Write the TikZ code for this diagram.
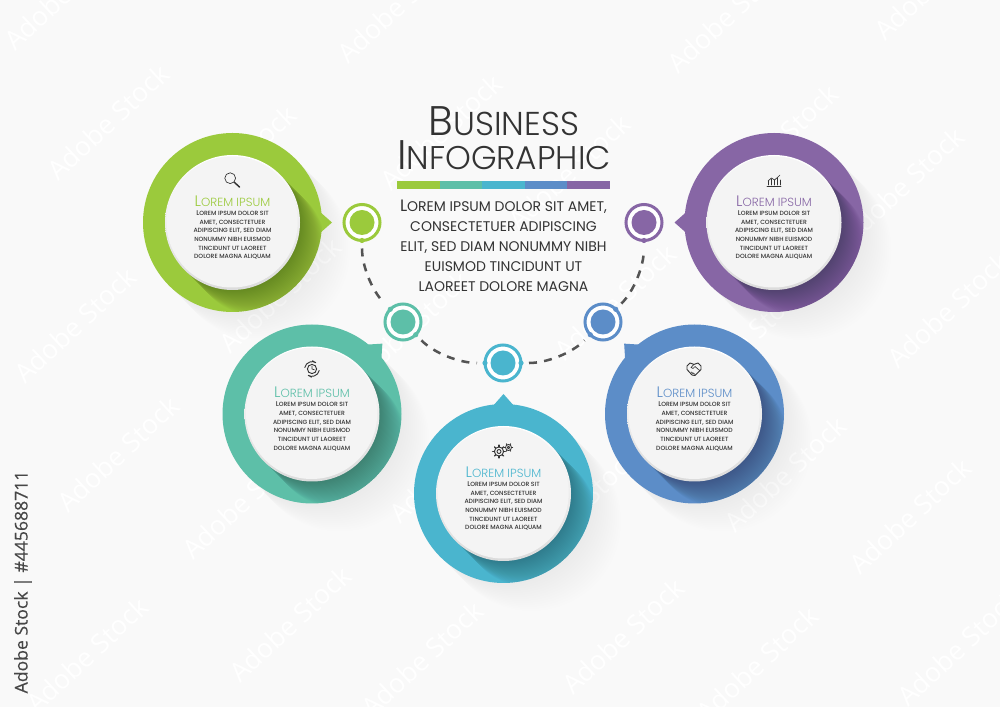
\documentclass[tikz,border=0pt]{standalone}
\usepackage{fontspec}
\setmainfont{Poppins}
\newfontfamily\lightf{Poppins Light}
\newfontfamily\medf{Poppins Medium}
\newfontfamily\stockf[FakeBold=.35]{Open Sans}
\newfontfamily\markf{Open Sans}
\usetikzlibrary{calc}
\definecolor{cgreen}{HTML}{9BCA3C}
\definecolor{cteal}{HTML}{5DBFA8}
\definecolor{ccyan}{HTML}{4AB5CE}
\definecolor{cblue}{HTML}{5C8DC8}
\definecolor{cpurple}{HTML}{8766A5}
\definecolor{cink}{HTML}{333333}
\definecolor{cpage}{HTML}{F9F9F9}
\tikzset{
  ringdisc/.style={circle,inner sep=0pt,outer sep=0pt,minimum size=134.25pt},
  whitedisc/.style={circle,inner sep=0pt,outer sep=0pt,minimum size=101.25pt},
  dotring/.style={circle,inner sep=0pt,outer sep=0pt,minimum size=27pt,line width=2.25pt,fill=white},
  dotcore/.style={circle,inner sep=0pt,outer sep=0pt,minimum size=18.75pt},
  dashlink/.style={draw=black!67,line width=1.9pt,dash pattern=on 6pt off 5.4pt,shorten <=6pt,shorten >=6pt,looseness=.885},
  icon/.style={draw=cink,line width=.5pt,line cap=round,line join=round},
  paneltitle/.style={inner sep=0pt,align=center},
  panelbody/.style={inner sep=0pt,align=center,text=cink,font=\medf\fontsize{4.55pt}{6.5pt}\selectfont},
  introtext/.style={inner sep=0pt,align=center,text=cink,font=\fontsize{10.5pt}{15pt}\selectfont},
  markbase/.style={inner sep=0pt,rotate=43,text=white,font=\markf\fontsize{20pt}{20pt}\selectfont},
}
\newcommand\Ptitle{{\lightf\fontsize{11.4pt}{10pt}\selectfont L{\fontsize{8.85pt}{10pt}\selectfont OREM IPSUM}}}
\newcommand\Pbody{{\fontsize{5.2pt}{6.5pt}\selectfont L}OREM IPSUM DOLOR SIT\\AMET, CONSECTETUER\\ADIPISCING ELIT, SED DIAM\\NONUMMY NIBH EUISMOD\\TINCIDUNT UT LAOREET\\DOLORE MAGNA ALIQUAM}
\newcommand\MarkList{65/-8,108/122,235/163,441/132,398/5,75/325,280/295,728/15,935/-18,777/142,903/185,569/172,615/302,948/310,745/340,118/454,243/501,290/624,87/655,422/659,450/465,408/329,785/474,910/516,623/636,757/664,958/648,578/506}
% #1 name  #2 x  #3 y  #4 colour  #5 pointer angle
\newcommand\Panel[5]{%
  \foreach \k in {1,...,14}{\fill[black,opacity=.003] ($(#2,#3)+(2*\k,-2*\k)$) circle[radius=89.5];}
  \node[ringdisc,fill=#4] (#1ring) at (#2,#3) {};
  \fill[#4] ($(#2,#3)+(#5:99.5)$) -- ($(#2,#3)+(#5+7:88)$) -- ($(#2,#3)+(#5-7:88)$) -- cycle;
  \begin{scope}
    \clip (#2,#3) circle[radius=89.5];
    \foreach \k in {1,...,26}{\fill[black,opacity=.0125] ($(#2,#3)+(1*\k,-1*\k)$) circle[radius=67.5];}
  \end{scope}
  \node[whitedisc,shade,shading angle=135,top color=white,bottom color=black!14] (#1disc) at (#2,#3) {};
  \fill[black!4.5] ($(#2,#3)+(-.4,.6)$) circle[radius=65.6];
  \node[paneltitle,text=#4] (#1title) at ($(#2,#3)+(0,21.5)$) {\Ptitle};
  \node[panelbody,anchor=north] (#1body) at ($(#2,#3)+(0,12.2)$) {\Pbody};
}
\newcommand\Dot[4]{%
  \node[dotring,draw=#4] (#1) at (#2,#3) {};
  \node[dotcore,fill=#4] (#1core) at (#2,#3) {};
}
\begin{document}
\begin{tikzpicture}[x=.75pt,y=.75pt]
\useasboundingbox (0,0) rectangle (1000,707);
\fill[cpage] (0,0) rectangle (1000,707);

% faint stock marks on the page
\begin{scope}
\clip (0,0) rectangle (1000,707);
\foreach \x/\y [count=\i] in \MarkList {
  \node[markbase] (mark\i) at (\x,707-\y) {Adobe Stock};
}
\end{scope}

% connectors first, then dots
\Dot{dotg}{362}{484.5}{cgreen}
\Dot{dott}{403}{385}{cteal}
\Dot{dotc}{503}{344}{ccyan}
\Dot{dotb}{603}{385}{cblue}
\Dot{dotp}{644}{484.5}{cpurple}
\draw[dashlink] (dotg) to[out=-90,in=135] (dott);
\draw[dashlink] (dott) to[out=-45,in=180] (dotc);
\draw[dashlink] (dotc) to[out=0,in=225] (dotb);
\draw[dashlink] (dotb) to[out=45,in=-90] (dotp);
\foreach \n/\a/\c in {dotg/-90/cgreen,dott/135/cteal,dott/-45/cteal,dotc/180/ccyan,dotc/0/ccyan,dotb/225/cblue,dotb/45/cblue,dotp/-90/cpurple}
  {\fill[\c] (\n.\a) circle[radius=2.6];}

\Panel{pg}{232.5}{484.5}{cgreen}{0}
\Panel{pt}{312}{293}{cteal}{45}
\Panel{pc}{503.5}{213.5}{ccyan}{90}
\Panel{pb}{694.5}{293}{cblue}{135}
\Panel{pp}{774}{484.5}{cpurple}{180}

% heading
\node[inner sep=0pt,text=cink] (head1) at (504,585.5) {\lightf\fontsize{31pt}{30pt}\selectfont B{\fontsize{24.8pt}{30pt}\selectfont USINESS}};
\node[inner sep=0pt,text=cink] (head2) at (504,552) {\lightf\fontsize{31pt}{30pt}\selectfont I{\fontsize{24.6pt}{30pt}\selectfont NFOGRAPHIC}};
\foreach \i/\c in {0/cgreen,1/cteal,2/ccyan,3/cblue,4/cpurple}
  {\fill[\c] (397+42.6*\i,517.5) rectangle (397+42.6*\i+42.7,525.5);}
\node[introtext,anchor=north] (intro) at (503.5,507) {{\fontsize{12.4pt}{15pt}\selectfont L}OREM IPSUM DOLOR SIT AMET,\\CONSECTETUER ADIPISCING\\ELIT, SED DIAM NONUMMY NIBH\\EUISMOD TINCIDUNT UT\\LAOREET DOLORE MAGNA};

% icons
\begin{scope}[shift={(232,527)}]
  \draw[icon] (-1.8,1.8) circle[radius=5.4];
  \draw[icon,line width=1.1pt] (2.2,-2.2) -- (7.5,-7);
\end{scope}
\begin{scope}[shift={(774,527)}]
  \draw[icon] (-7,-6) -- (7,-6);
  \foreach \x/\h in {-5.5/3,-2.5/5,.5/4,3.5/6,6/4}{\draw[icon] (\x,-5) -- (\x,\h-5+1);}
  \draw[icon] (-6,-1) -- (-2.5,2) -- (.5,0) -- (4,3) -- (6,5);
\end{scope}
\begin{scope}[shift={(312,338)}]
  \draw[icon,line width=.7pt] (0,0) circle[radius=4.6];
  \draw[icon] (0,2.8) -- (0,0) -- (2.4,-.8);
  \draw[icon,line width=.7pt] (-7.2,1.5) arc[start angle=168,end angle=60,radius=7.4] -- ++(-3.2,1.8);
  \draw[icon,line width=.7pt] (7.2,-1.5) arc[start angle=-12,end angle=-120,radius=7.4] -- ++(3.2,-1.8);
\end{scope}
\begin{scope}[shift={(499,255.5)}]
  \draw[icon,line width=.7pt] (0,0) circle[radius=2];
  \draw[icon,line width=.7pt] (0,0) circle[radius=4.6];
  \foreach \a in {0,45,...,315}{\draw[icon,line width=1pt] (\a:4.6) -- (\a:6.4);}
  \draw[icon,line width=.6pt] (9.5,4) circle[radius=1.2];
  \draw[icon,line width=.6pt] (9.5,4) circle[radius=3];
  \foreach \a in {0,60,...,300}{\draw[icon,line width=.8pt] ($(9.5,4)+(\a:3)$) -- ($(9.5,4)+(\a:4.2)$);}
\end{scope}
\begin{scope}[shift={(694,338)}]
  \draw[icon,line width=.7pt] (-7,3) -- (-4,6) -- (0,4.6) -- (4,6) -- (7,3) -- (7,-.5) -- (1,-6.5) -- (-2,-6) -- (-7,-.5) -- cycle;
  \draw[icon] (0,4.6) -- (-3,1.5) -- (-1,.5) -- (1,2.5) -- (6,-1.8);
  \draw[icon] (-1,-3.8) -- (1.2,-5.6);
  \draw[icon] (-3,-2.8) -- (-.8,-4.8);
\end{scope}

% stock label
\node[inner sep=0pt,rotate=90,text=black!72] (stock) at (23,125) {\stockf\fontsize{13.2pt}{16pt}\selectfont Adobe Stock | \#445688711};
\end{tikzpicture}
\end{document}
